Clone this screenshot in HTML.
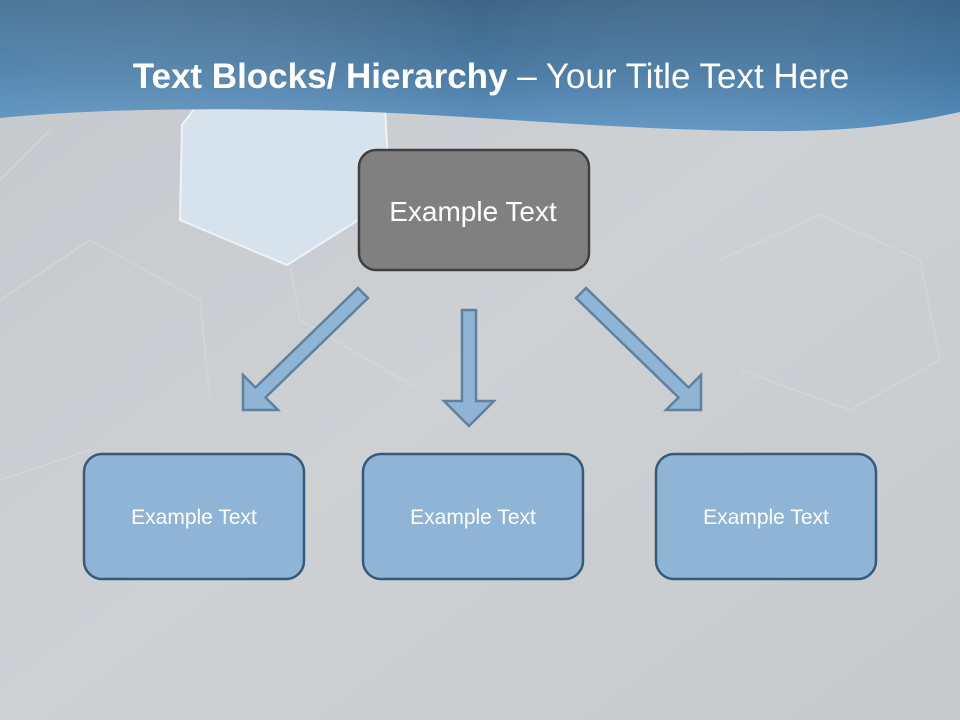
<!DOCTYPE html>
<html><head><meta charset="utf-8"><style>
html,body{margin:0;padding:0;}
body{width:960px;height:720px;overflow:hidden;}
</style></head><body>
<svg width="960" height="720" xmlns="http://www.w3.org/2000/svg" font-family="Liberation Sans, sans-serif">
<defs>
<linearGradient id="hd" x1="0" y1="0" x2="0" y2="1">
<stop offset="0" stop-color="#3e6586"/><stop offset="0.55" stop-color="#4a7aa3"/><stop offset="1" stop-color="#5f95c2"/>
</linearGradient>
<linearGradient id="hd2" x1="0" y1="0" x2="1" y2="0">
<stop offset="0" stop-color="#7ab0d8" stop-opacity="0.25"/><stop offset="0.5" stop-color="#fff" stop-opacity="0"/><stop offset="1" stop-color="#2f6a9e" stop-opacity="0.2"/>
</linearGradient>
<linearGradient id="bg" x1="0" y1="0" x2="1" y2="1">
<stop offset="0" stop-color="#c5c9cd"/><stop offset="0.5" stop-color="#cdd1d4"/><stop offset="1" stop-color="#c6cacd"/>
</linearGradient>
</defs>
<rect width="960" height="720" fill="url(#bg)"/>
<g fill="none" stroke="#d8dbde" stroke-width="1.5" opacity="0.6">
<polyline points="0,180 50,130"/>
<polyline points="0,300 90,240 200,300 210,400"/>
<polyline points="290,265 300,320 420,390"/>
<polyline points="720,260 820,215 920,260 940,360 850,410 740,370"/>
<polyline points="0,480 90,450"/>
</g>
<polygon points="195,108 385,108 390,200 287,265 180,220 182,125" fill="#d6e2ec" stroke="#eef3f7" stroke-width="2"/>
<path d="M0,0 H960 V112 C900,125 850,132 760,131 C600,130 450,112 300,110 C180,108 80,110 0,118 Z" fill="url(#hd)"/>
<path d="M0,0 H960 V112 C900,125 850,132 760,131 C600,130 450,112 300,110 C180,108 80,110 0,118 Z" fill="url(#hd2)"/>
<text x="491" y="88" text-anchor="middle" font-size="35" fill="#fff"><tspan font-weight="bold">Text Blocks/ Hierarchy</tspan> – Your Title Text Here</text>
<rect x="359" y="150" width="230" height="120" rx="17" fill="#808080" stroke="#404040" stroke-width="2.5"/>
<text x="473" y="221" text-anchor="middle" font-size="28" fill="#fff">Example Text</text>
<g fill="#8fb4d6" stroke="#5f819d" stroke-width="2.5">
<polygon points="358,288 368,298 265.5,397.5 278,410 243,410 243,375 255.5,387.5"/>
<polygon points="586,288 576,298 678.5,397.5 666,410 701,410 701,375 688.5,387.5"/>
<polygon points="462,310 476,310 476,401 494,401 469,426 444,401 462,401"/>
</g>
<g fill="#8fb4d6" stroke="#355a7a" stroke-width="2.5">
<rect x="84" y="454" width="220" height="125" rx="18"/>
<rect x="363" y="454" width="220" height="125" rx="18"/>
<rect x="656" y="454" width="220" height="125" rx="18"/>
</g>
<g font-size="21" fill="#fff" text-anchor="middle">
<text x="194" y="524">Example Text</text>
<text x="473" y="524">Example Text</text>
<text x="766" y="524">Example Text</text>
</g>
</svg>
</body></html>
